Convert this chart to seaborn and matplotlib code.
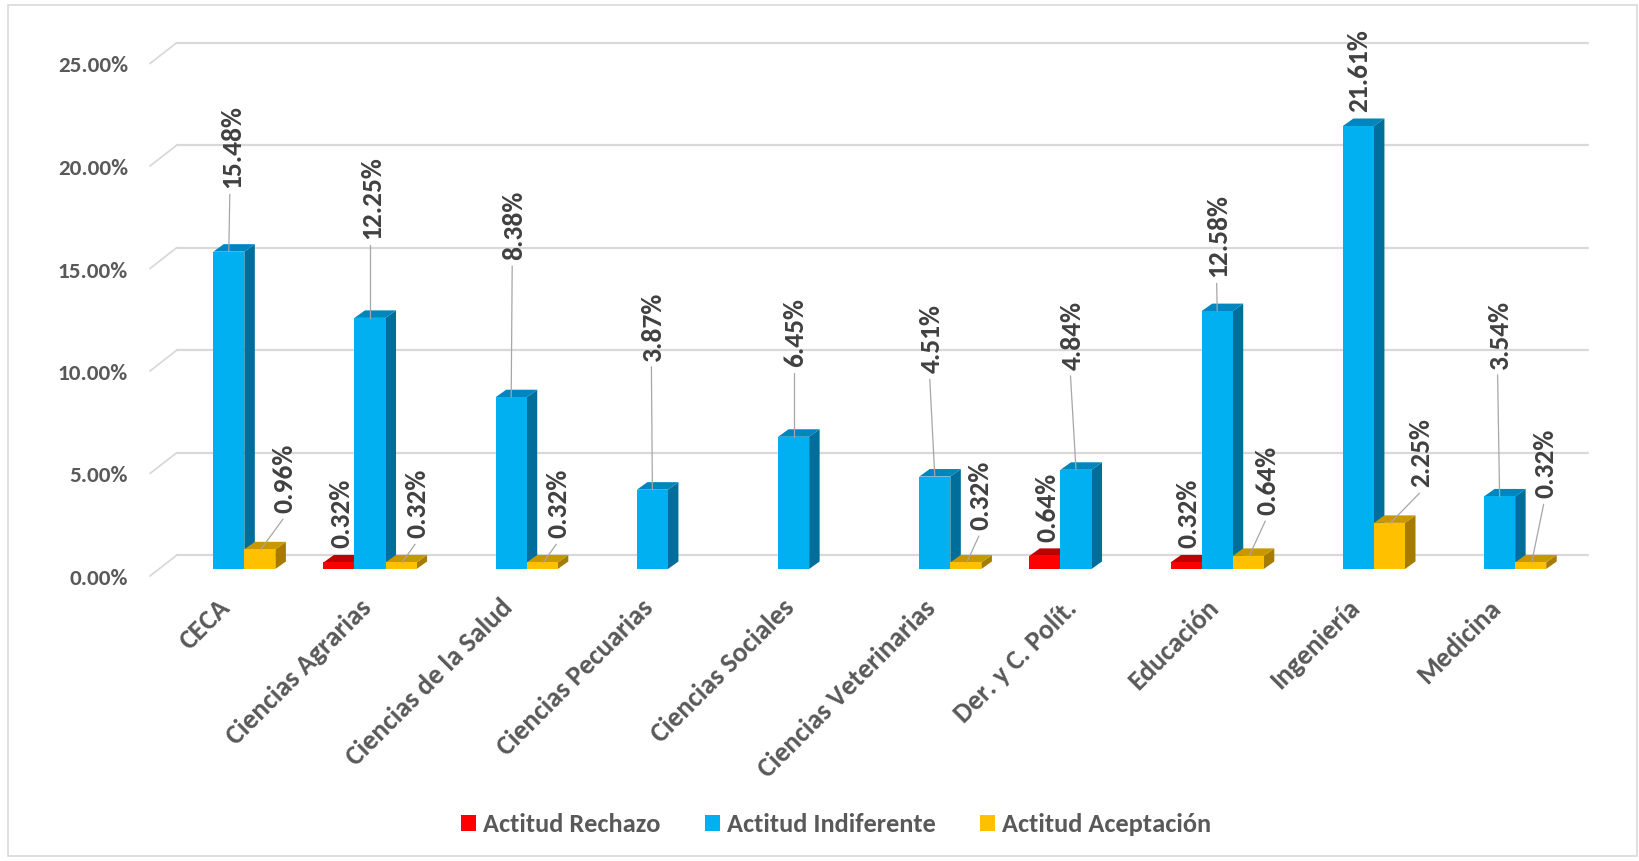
import numpy as np
import pandas as pd
import matplotlib
matplotlib.use("Agg")
import matplotlib.pyplot as plt
import seaborn as sns
from matplotlib.transforms import ScaledTranslation, IdentityTransform
from matplotlib.patches import Polygon, Patch, Rectangle
from matplotlib.lines import Line2D
from matplotlib.ticker import PercentFormatter

# ---------------- data ----------------
categories = ["CECA", "Ciencias Agrarias", "Ciencias de la Salud", "Ciencias Pecuarias",
              "Ciencias Sociales", "Ciencias Veterinarias", "Der. y C. Polít.", "Educación",
              "Ingeniería", "Medicina"]
series = ["Actitud Rechazo", "Actitud Indiferente", "Actitud Aceptación"]
rechazo = [0, 0.32, 0, 0, 0, 0, 0.64, 0.32, 0, 0]
indiferente = [15.48, 12.25, 8.38, 3.87, 6.45, 4.51, 4.84, 12.58, 21.61, 3.54]
aceptacion = [0.96, 0.32, 0.32, 0, 0, 0.32, 0, 0.64, 2.25, 0.32]
yticks = [0, 5, 10, 15, 20, 25]

# ---------------- label layout (manually placed labels in original) ----------------
blue_label_y = [18.57, 16.08, 15.07, 10.16, 9.87, 9.55, 9.71, 14.23, 22.31, 9.76]
blue_label_dx = [3, 2, 3, 1, 2, -3, -3.5, 1.5, 1, 0]
yellow_label_y = [2.72, 1.50, 1.50, 0, 0, 1.90, 0, 2.63, 3.99, 3.45]
yellow_label_dx = [25, 16, 16, 0, 0, 15, 0, 19, 32, 15]

# ---------------- styles ----------------
front_col = ["#FF0000", "#00B0F0", "#FFC000"]
top_col = ["#C00000", "#0086BF", "#C99700"]
side_col = ["#A00000", "#006E9B", "#A67C00"]
grid_col = "#D9D9D9"
lead_col = "#A6A6A6"
val_col = "#404040"
txt_col = "#595959"
FONT = ["Carlito", "DejaVu Sans"]

sns.set_theme(style="white")
plt.rcParams["font.family"] = FONT

W, H = 1640, 861
fig = plt.figure(figsize=(W / 100, H / 100), dpi=100)
fig.patch.set_facecolor("white")
ax = fig.add_axes([158.2 / W, (H - 569) / H, 1412 / W, 512.5 / H])

df = pd.DataFrame({
    "cat": categories * 3,
    "serie": np.repeat(series, len(categories)),
    "val": rechazo + indiferente + aceptacion,
})
sns.barplot(data=df, x="cat", y="val", hue="serie", order=categories, hue_order=series,
            palette=front_col, width=0.66, saturation=1, errorbar=None, linewidth=0,
            legend=False, ax=ax)
ax.set_xlim(-0.5, 9.5)
ax.set_ylim(0, 25)
ax.set_xlabel("")
ax.set_ylabel("")
ax.grid(False)
for s in ax.spines.values():
    s.set_visible(False)
ax.patch.set_alpha(0)

# pixel scales
ux = ax.transData.transform((1, 0))[0] - ax.transData.transform((0, 0))[0]
uy = ax.transData.transform((0, 1))[1] - ax.transData.transform((0, 0))[1]
ddx = 10.5 / ux
ddy = 7.5 / uy

# gridlines on back wall with perspective stubs
for v in yticks:
    yd = ax.transData.transform((0, v))[1]
    ax.add_line(Line2D([177, 1588], [yd + 14, yd + 14], transform=IdentityTransform(),
                       color=grid_col, lw=1.6, clip_on=False, zorder=0.5))
    ax.add_line(Line2D([150, 177], [yd - 7, yd + 14], transform=IdentityTransform(),
                       color=grid_col, lw=1.3, clip_on=False, zorder=0.5))

# 3D faces + labels
for h, cont in enumerate(ax.containers):
    for j, rect in enumerate(cont.patches):
        v = rect.get_height()
        if not np.isfinite(v) or v <= 0:
            rect.set_visible(False)
            continue
        x0 = rect.get_x()
        x1 = x0 + rect.get_width()
        cx = (x0 + x1) / 2
        rect.set_zorder(3 + h + 0.05)
        top = Polygon([(x0, v), (x0 + ddx, v + ddy), (x1 + ddx, v + ddy), (x1, v)],
                      closed=True, facecolor=top_col[h], edgecolor="none", zorder=3 + h)
        side = Polygon([(x1, 0), (x1 + ddx, ddy), (x1 + ddx, v + ddy), (x1, v)],
                       closed=True, facecolor=side_col[h], edgecolor="none", zorder=3 + h)
        ax.add_patch(side)
        ax.add_patch(top)

        lbl = f"{v:.2f}%"
        if h == 0:
            tx = cx + 2 / ux
            ty = v + 14 / uy
            lead = None
        elif h == 1:
            tx = cx + blue_label_dx[j] / ux
            ty = blue_label_y[j]
            lead = ((cx, v), (tx - 2 / ux, ty - 6 / uy)) if (ty - v) * uy > 20 else None
        else:
            tx = cx + yellow_label_dx[j] / ux
            ty = yellow_label_y[j]
            lead = ((cx + 1 / ux, v), (tx - 2 / ux, ty - 6 / uy))
        if lead is not None:
            ax.plot([lead[0][0], lead[1][0]], [lead[0][1], lead[1][1]], color=lead_col,
                    lw=0.9, zorder=9, clip_on=False)
        ax.text(tx, ty, lbl, rotation=90, ha="center", va="bottom", fontsize=19.8,
                fontweight="bold", color=val_col, zorder=10, clip_on=False)

# y ticks
ax.set_yticks(yticks)
ax.yaxis.set_major_formatter(PercentFormatter(xmax=100, decimals=2))
ax.tick_params(axis="y", length=0, pad=21.6, labelsize=16.7, labelcolor=txt_col, left=False)
for lbl in ax.get_yticklabels():
    lbl.set_fontweight("bold")
    lbl.set_transform(lbl.get_transform() + ScaledTranslation(0, -8 / 100, fig.dpi_scale_trans))

# x ticks
ax.tick_params(axis="x", length=0, pad=25.0, labelsize=19.8, labelcolor=txt_col, bottom=False)
for lbl in ax.get_xticklabels():
    lbl.set_rotation(45)
    lbl.set_ha("right")
    lbl.set_va("center")
    lbl.set_rotation_mode("anchor")
    lbl.set_fontweight("bold")
    lbl.set_transform(lbl.get_transform() + ScaledTranslation(-3 / 100, 0, fig.dpi_scale_trans))

# legend
handles = [Patch(facecolor=c, edgecolor="none") for c in front_col]
fig.legend(handles, series, loc="center", bbox_to_anchor=(836 / W, 36 / H), ncol=3,
           frameon=False, prop={"family": FONT, "weight": "bold", "size": 19},
           labelcolor=txt_col, handlelength=0.57, handleheight=0.57, handletextpad=0.27,
           columnspacing=1.67)

# chart border
fig.add_artist(Rectangle((8, 5), 1629, 851, transform=IdentityTransform(), fill=False,
                         edgecolor=grid_col, lw=1.2))

fig.savefig("out.png", dpi=100, facecolor="white")
